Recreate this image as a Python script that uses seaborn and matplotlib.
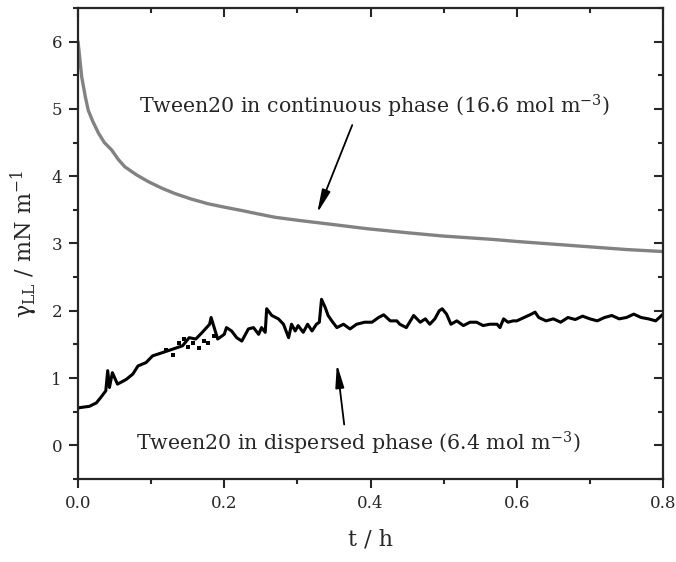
import matplotlib
matplotlib.use("Agg")
import matplotlib.pyplot as plt
from matplotlib.ticker import MultipleLocator
import seaborn as sns
import pandas as pd

# ---- data ----
t_cont = [0.0, 0.001, 0.005, 0.010, 0.014, 0.020, 0.028, 0.036, 0.046, 0.055, 0.064,
          0.080, 0.096, 0.115, 0.133, 0.155, 0.178, 0.200, 0.224, 0.246, 0.269, 0.304,
          0.350, 0.395, 0.450, 0.500, 0.568, 0.600, 0.650, 0.700, 0.750, 0.800]
g_cont = [6.00, 5.90, 5.48, 5.18, 4.98, 4.82, 4.64, 4.50, 4.39, 4.25, 4.14,
          4.02, 3.92, 3.82, 3.74, 3.66, 3.59, 3.54, 3.49, 3.44, 3.39, 3.34,
          3.28, 3.22, 3.16, 3.11, 3.06, 3.03, 2.99, 2.95, 2.91, 2.88]

t_disp = [0.000, 0.002, 0.0155, 0.025, 0.031, 0.038, 0.0406, 0.043, 0.047, 0.054, 0.066,
          0.075, 0.082, 0.093, 0.102, 0.116, 0.1295, 0.143, 0.152, 0.161, 0.170,
          0.180, 0.182, 0.191, 0.200, 0.203, 0.210, 0.217, 0.224, 0.233, 0.240,
          0.247, 0.251, 0.256, 0.258, 0.265, 0.274, 0.281, 0.288, 0.292, 0.297,
          0.301, 0.308, 0.314, 0.320, 0.326, 0.330, 0.333, 0.338, 0.342, 0.347,
          0.354, 0.363, 0.372, 0.381, 0.392, 0.402, 0.411, 0.418, 0.427, 0.436,
          0.440, 0.449, 0.459, 0.468, 0.475, 0.481, 0.488, 0.494, 0.498, 0.504,
          0.510, 0.518, 0.527, 0.536, 0.545, 0.554, 0.563, 0.573, 0.577, 0.582,
          0.588, 0.595, 0.600, 0.610, 0.620, 0.625, 0.630, 0.640, 0.650, 0.660,
          0.670, 0.680, 0.690, 0.700, 0.710, 0.720, 0.730, 0.740, 0.750, 0.760,
          0.770, 0.780, 0.790, 0.800]
g_disp = [0.55, 0.56, 0.58, 0.63, 0.71, 0.81, 1.11, 0.86, 1.08, 0.91, 0.98,
          1.06, 1.18, 1.23, 1.33, 1.38, 1.43, 1.48, 1.60, 1.58, 1.68,
          1.80, 1.90, 1.58, 1.65, 1.75, 1.70, 1.60, 1.55, 1.73, 1.75,
          1.65, 1.75, 1.68, 2.03, 1.93, 1.88, 1.80, 1.60, 1.80, 1.70,
          1.78, 1.68, 1.80, 1.70, 1.80, 1.83, 2.17, 2.05, 1.93, 1.85,
          1.75, 1.80, 1.73, 1.80, 1.83, 1.83, 1.90, 1.94, 1.85, 1.85,
          1.80, 1.75, 1.93, 1.83, 1.88, 1.80, 1.88, 2.00, 2.03, 1.95,
          1.80, 1.85, 1.78, 1.83, 1.83, 1.78, 1.80, 1.80, 1.75, 1.88,
          1.83, 1.85, 1.85, 1.90, 1.95, 1.98, 1.90, 1.85, 1.88, 1.83,
          1.90, 1.87, 1.92, 1.88, 1.85, 1.90, 1.93, 1.88, 1.90, 1.95,
          1.90, 1.88, 1.85, 1.95]

# stray points in the scattered region
t_stray = [0.120, 0.130, 0.138, 0.145, 0.150, 0.157, 0.165, 0.172, 0.178, 0.186]
g_stray = [1.42, 1.35, 1.52, 1.58, 1.46, 1.52, 1.45, 1.55, 1.52, 1.62]

label_cont = "Tween20 in continuous phase (16.6 mol m$^{-3}$)"
label_disp = "Tween20 in dispersed phase (6.4 mol m$^{-3}$)"

df_cont = pd.DataFrame({"t": t_cont, "g": g_cont})
df_disp = pd.DataFrame({"t": t_disp, "g": g_disp})
df_stray = pd.DataFrame({"t": t_stray, "g": g_stray})

sns.set_style("ticks")
plt.rcParams["font.family"] = ["DejaVu Serif"]
plt.rcParams["mathtext.fontset"] = "dejavuserif"

fig = plt.figure(figsize=(6.76, 5.62), dpi=100)
ax = fig.add_axes([0.1154, 0.1477, 0.8654, 0.8381])

sns.lineplot(data=df_cont, x="t", y="g", ax=ax, color="#828282", lw=2.4)
sns.lineplot(data=df_disp, x="t", y="g", ax=ax, color="black", lw=2.2)
sns.scatterplot(data=df_stray, x="t", y="g", ax=ax, color="black", marker="s", s=5,
                edgecolor="black", linewidth=0)

ax.set_xlim(0, 0.8)
ax.set_ylim(-0.5, 6.5)
ax.xaxis.set_major_locator(MultipleLocator(0.2))
ax.xaxis.set_minor_locator(MultipleLocator(0.1))
ax.yaxis.set_major_locator(MultipleLocator(1))
ax.yaxis.set_minor_locator(MultipleLocator(0.5))
ax.set_xticklabels([f"{v:.1f}" for v in ax.get_xticks()])

for s in ax.spines.values():
    s.set_linewidth(1.6)
    s.set_visible(True)
ax.tick_params(which="both", top=True, right=True, width=1.5, labelsize=12, pad=5)
ax.tick_params(which="major", length=6.5)
ax.tick_params(which="minor", length=3.5)
ax.tick_params(axis="x", which="both", direction="out")
ax.tick_params(axis="y", which="both", direction="out")
# top/right ticks point inward
for t in ax.xaxis.get_major_ticks() + ax.xaxis.get_minor_ticks():
    t.tick2line.set_marker(matplotlib.lines.TICKDOWN)
for t in ax.yaxis.get_major_ticks() + ax.yaxis.get_minor_ticks():
    t.tick2line.set_marker(matplotlib.lines.TICKLEFT)

ax.set_xlabel("t / h", fontsize=16, labelpad=12)
ax.set_ylabel(r"$\mathrm{\gamma_{LL}}$ / mN m$^{-1}$", fontsize=16, labelpad=8)

arrow = dict(arrowstyle="-|>,head_width=0.13,head_length=0.7", color="black",
             lw=1.3, shrinkA=0, shrinkB=0, mutation_scale=20)

ax.text(0.406, 5.04, label_cont, fontsize=14.8, ha="center", va="center")
ax.annotate("", xy=(0.327, 3.45), xytext=(0.375, 4.76), arrowprops=arrow)

ax.text(0.383, 0.03, label_disp, fontsize=14.8, ha="center", va="center")
ax.annotate("", xy=(0.354, 1.21), xytext=(0.364, 0.31), arrowprops=arrow)

fig.savefig("out.png", dpi=100)
